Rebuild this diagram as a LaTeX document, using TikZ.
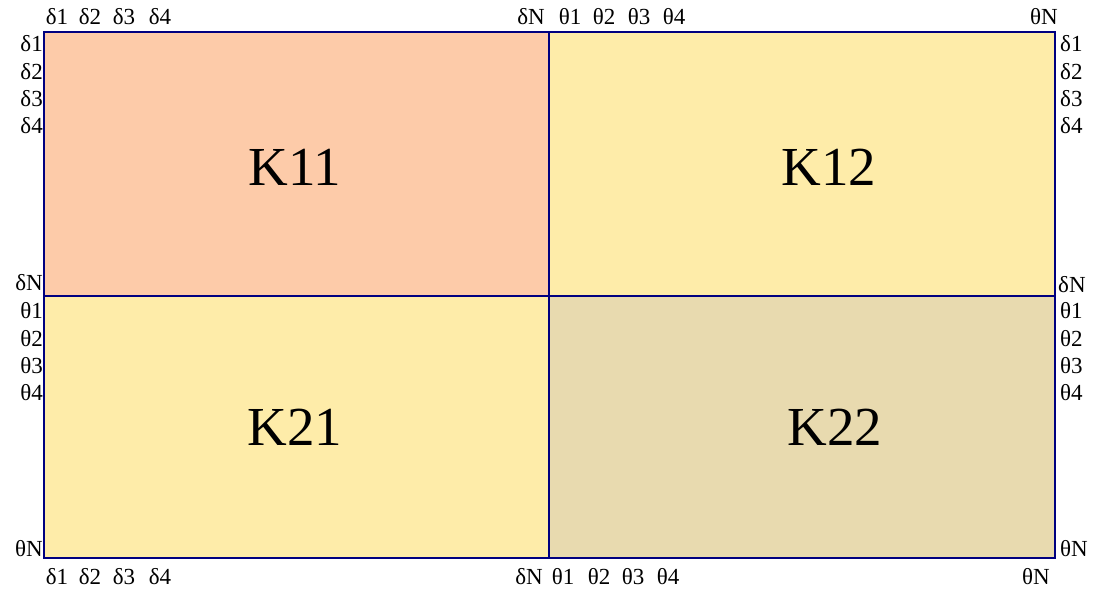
\documentclass[tikz,border=0pt]{standalone}
\usepackage{fontspec}
\setmainfont{Liberation Serif}
\definecolor{cA}{HTML}{FDCBA9}
\definecolor{cB}{HTML}{FEECA9}
\definecolor{cC}{HTML}{E8DAAF}
\definecolor{ln}{HTML}{000080}
\begin{document}
\begin{tikzpicture}[x=1pt,y=-1pt,
  lbl/.style={inner sep=0pt,font=\fontsize{23}{26}\selectfont},
  big/.style={inner sep=0pt,font=\fontsize{55}{62}\selectfont},
  quad/.style={draw=ln,line width=1.3pt}]
\useasboundingbox (0,0) rectangle (1099,593);
\fill[cA] (44,32) rectangle (549,296);
\fill[cB] (549,32) rectangle (1055,296);
\fill[cB] (44,296) rectangle (549,558);
\fill[cC] (549,296) rectangle (1055,558);
\draw[quad] (44,32) rectangle (1055,558);
\draw[quad] (549,32) -- (549,558);
\draw[quad] (44,296) -- (1055,296);
\node[big] (k11) at (295,167) {K11};
\node[big] (k12) at (829,167) {K12};
\node[big] (k21) at (295,427) {K21};
\node[big] (k22) at (835,427) {K22};
% top labels
\node[lbl] (t1) at (57,17) {δ1};
\node[lbl] (t2) at (90,17) {δ2};
\node[lbl] (t3) at (124,17) {δ3};
\node[lbl] (t4) at (160,17) {δ4};
\node[lbl] (tN) at (531,17) {δN};
\node[lbl] (u1) at (570,17) {θ1};
\node[lbl] (u2) at (604,17) {θ2};
\node[lbl] (u3) at (639,17) {θ3};
\node[lbl] (u4) at (674,17) {θ4};
\node[lbl] (uN) at (1044,17) {θN};
% bottom labels
\node[lbl] (b1) at (57,577) {δ1};
\node[lbl] (b2) at (90,577) {δ2};
\node[lbl] (b3) at (124,577) {δ3};
\node[lbl] (b4) at (160,577) {δ4};
\node[lbl] (bN) at (529,577) {δN};
\node[lbl] (c1) at (563,577) {θ1};
\node[lbl] (c2) at (599,577) {θ2};
\node[lbl] (c3) at (633,577) {θ3};
\node[lbl] (c4) at (668,577) {θ4};
\node[lbl] (cN) at (1036,577) {θN};
% left labels
\node[lbl,anchor=east] (l1) at (43,44) {δ1};
\node[lbl,anchor=east] (l2) at (43,72) {δ2};
\node[lbl,anchor=east] (l3) at (43,99) {δ3};
\node[lbl,anchor=east] (l4) at (43,126) {δ4};
\node[lbl,anchor=east] (lN) at (43,283) {δN};
\node[lbl,anchor=east] (m1) at (43,311) {θ1};
\node[lbl,anchor=east] (m2) at (43,339) {θ2};
\node[lbl,anchor=east] (m3) at (43,366) {θ3};
\node[lbl,anchor=east] (m4) at (43,393) {θ4};
\node[lbl,anchor=east] (mN) at (43,549) {θN};
% right labels
\node[lbl,anchor=west] (r1) at (1060,44) {δ1};
\node[lbl,anchor=west] (r2) at (1060,72) {δ2};
\node[lbl,anchor=west] (r3) at (1060,99) {δ3};
\node[lbl,anchor=west] (r4) at (1060,126) {δ4};
\node[lbl,anchor=west] (rN) at (1058,285) {δN};
\node[lbl,anchor=west] (s1) at (1060,311) {θ1};
\node[lbl,anchor=west] (s2) at (1060,339) {θ2};
\node[lbl,anchor=west] (s3) at (1060,366) {θ3};
\node[lbl,anchor=west] (s4) at (1060,393) {θ4};
\node[lbl,anchor=west] (sN) at (1060,549) {θN};
\end{tikzpicture}
\end{document}
